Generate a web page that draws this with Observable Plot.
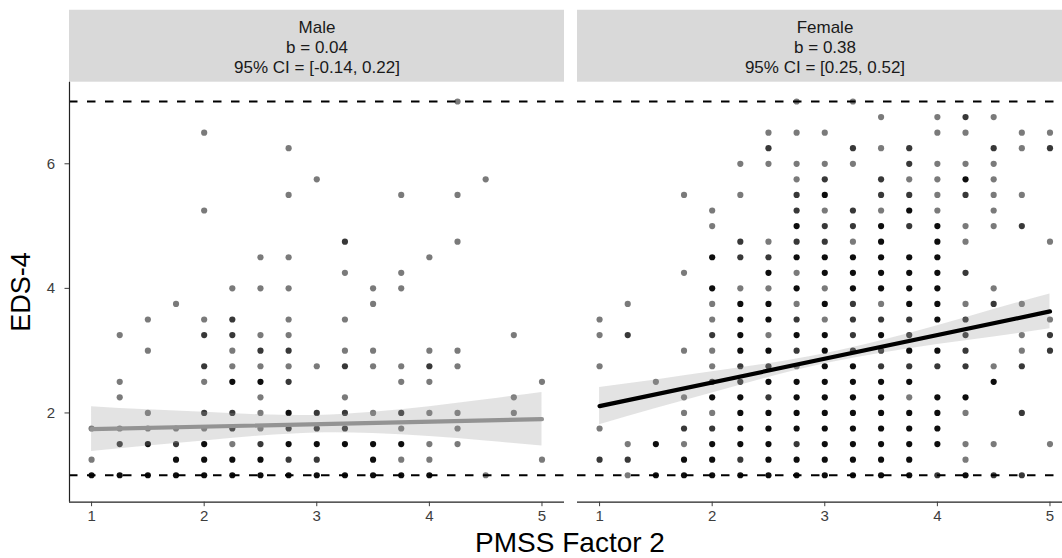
<!DOCTYPE html>
<html><head><meta charset="utf-8">
<script src="https://cdn.jsdelivr.net/npm/d3@7"></script>
<script src="https://cdn.jsdelivr.net/npm/@observablehq/plot@0.6"></script>
<style>
html,body{margin:0;padding:0;background:#fff;overflow:hidden}
#wrap{position:relative;width:1062px;height:558px;overflow:hidden;font-family:"Liberation Sans",Arial,sans-serif}
#xtitle{position:absolute;left:570px;top:527px;transform:translateX(-50%);font-size:28px;line-height:32px;white-space:nowrap;color:#000}
#ytitle{position:absolute;left:21px;top:292px;transform:translate(-50%,-50%) rotate(-90deg);font-size:27px;line-height:30px;white-space:nowrap;color:#000}
</style></head><body><div id="wrap"><div id="chart"></div><div id="ytitle">EDS-4</div><div id="xtitle">PMSS Factor 2</div></div>
<script>
// ---- data ----
const sexes = ["Male", "Female"];
const stripLabels = ["Male\nb = 0.04\n95% CI = [-0.14, 0.22]", "Female\nb = 0.38\n95% CI = [0.25, 0.52]"];
const xTicks = [1, 2, 3, 4, 5];
const yTicks = [2, 4, 6];
const refLines = [1, 7];
// [PMSS Factor 2, EDS-4, overlap level (1 = single, 2 = few, 3 = many)]
const malePoints = [
  [4.25,7,1],
  [2,6.5,1],
  [2.75,6.25,1],
  [3,5.75,1],[4.5,5.75,1],
  [2.75,5.5,1],[3.75,5.5,1],[4.25,5.5,1],
  [2,5.25,1],
  [3.25,4.75,2],[4.25,4.75,1],
  [2.5,4.5,1],[2.75,4.5,1],[4,4.5,1],
  [3.25,4.25,1],[3.75,4.25,1],
  [2.25,4,1],[2.5,4,1],[2.75,4,1],[3.5,4,1],[3.75,4,1],
  [1.75,3.75,1],[3.5,3.75,1],
  [1.5,3.5,1],[2,3.5,1],[2.25,3.5,2],[2.75,3.5,1],[3.25,3.5,1],
  [1.25,3.25,1],[2,3.25,2],[2.25,3.25,2],[2.5,3.25,1],[2.75,3.25,1],[4.75,3.25,1],
  [1.5,3,1],[2.25,3,1],[2.5,3,2],[2.75,3,2],[3.25,3,1],[3.5,3,1],[4,3,1],[4.25,3,1],
  [2,2.75,2],[2.25,2.75,1],[2.5,2.75,1],[2.75,2.75,1],[3,2.75,1],[3.25,2.75,2],[3.5,2.75,1],[3.75,2.75,1],[4,2.75,2],[4.25,2.75,1],
  [1.25,2.5,1],[2,2.5,1],[2.25,2.5,3],[2.5,2.5,3],[2.75,2.5,2],[3.75,2.5,1],[4,2.5,1],[5,2.5,1],
  [1.25,2.25,1],[2.5,2.25,1],[3.25,2.25,1],[4.75,2.25,1],
  [1.5,2,1],[2,2,2],[2.25,2,2],[2.5,2,1],[2.75,2,3],[3,2,2],[3.25,2,2],[3.5,2,1],[3.75,2,2],[4,2,1],[4.25,2,1],[4.75,2,1],
  [1,1.75,1],[1.25,1.75,1],[1.5,1.75,1],[1.75,1.75,1],[2,1.75,1],[2.25,1.75,2],[2.5,1.75,1],[2.75,1.75,2],[3,1.75,2],[3.25,1.75,2],[3.75,1.75,1],[4.25,1.75,1],
  [1.25,1.5,2],[1.5,1.5,3],[1.75,1.5,2],[2,1.5,3],[2.25,1.5,1],[2.5,1.5,2],[2.75,1.5,3],[3,1.5,3],[3.25,1.5,3],[3.5,1.5,3],[3.75,1.5,3],[4,1.5,1],[4.25,1.5,1],
  [1,1.25,1],[1.75,1.25,3],[2,1.25,3],[2.25,1.25,3],[2.5,1.25,3],[2.75,1.25,2],[3,1.25,2],[3.5,1.25,3],[3.75,1.25,1],[4,1.25,1],[5,1.25,1],
  [1,1,3],[1.25,1,3],[1.5,1,3],[1.75,1,3],[2,1,3],[2.25,1,3],[2.5,1,3],[2.75,1,3],[3,1,3],[3.25,1,3],[3.5,1,3],[3.75,1,3],[4,1,3],[4.5,1,1]
];
const femalePoints = [
  [2.75,7,1],[3.25,7,1],
  [3.5,6.75,1],[4,6.75,1],[4.25,6.75,2],[4.5,6.75,1],
  [2.5,6.5,1],[2.75,6.5,1],[3,6.5,1],[4,6.5,1],[4.25,6.5,1],[4.75,6.5,1],[5,6.5,1],
  [2.5,6.25,2],[3.25,6.25,2],[3.5,6.25,1],[3.75,6.25,2],[4.5,6.25,2],[4.75,6.25,1],[5,6.25,2],
  [2.25,6,1],[2.5,6,1],[2.75,6,1],[3,6,1],[3.25,6,1],[3.75,6,2],[4,6,1],[4.25,6,1],[4.5,6,1],
  [2.75,5.75,1],[3,5.75,2],[3.5,5.75,2],[3.75,5.75,1],[4,5.75,1],[4.25,5.75,3],[4.5,5.75,1],
  [1.75,5.5,1],[2.25,5.5,1],[2.75,5.5,2],[3,5.5,3],[3.5,5.5,2],[3.75,5.5,2],[4,5.5,1],[4.25,5.5,2],[4.5,5.5,1],[4.75,5.5,1],
  [2,5.25,1],[2.75,5.25,2],[3,5.25,1],[3.25,5.25,2],[3.5,5.25,1],[3.75,5.25,3],[4,5.25,1],[4.5,5.25,1],
  [2,5,1],[2.75,5,3],[3,5,2],[3.25,5,2],[3.5,5,3],[3.75,5,2],[4,5,3],[4.25,5,1],[4.5,5,1],[4.75,5,2],
  [2.25,4.75,2],[2.5,4.75,1],[2.75,4.75,2],[3,4.75,2],[3.25,4.75,1],[3.5,4.75,3],[4,4.75,3],[4.25,4.75,1],[5,4.75,1],
  [2,4.5,3],[2.25,4.5,2],[2.5,4.5,2],[2.75,4.5,3],[3,4.5,3],[3.25,4.5,3],[3.5,4.5,3],[3.75,4.5,3],[4,4.5,3],
  [1.75,4.25,1],[2.5,4.25,3],[2.75,4.25,1],[3,4.25,3],[3.25,4.25,3],[3.5,4.25,3],[3.75,4.25,3],[4,4.25,3],[4.25,4.25,2],
  [2,4,3],[2.25,4,1],[2.5,4,1],[2.75,4,3],[3,4,1],[3.25,4,3],[3.5,4,3],[3.75,4,3],[4,4,3],[4.5,4,1],
  [1.25,3.75,1],[2,3.75,1],[2.25,3.75,3],[2.5,3.75,3],[2.75,3.75,1],[3,3.75,3],[3.25,3.75,2],[3.5,3.75,1],[3.75,3.75,3],[4,3.75,3],[4.25,3.75,1],[4.5,3.75,2],[4.75,3.75,1],
  [1,3.5,1],[2,3.5,1],[2.25,3.5,3],[2.5,3.5,3],[2.75,3.5,2],[3,3.5,1],[3.25,3.5,2],[3.5,3.5,2],[3.75,3.5,2],[4,3.5,3],[4.25,3.5,2],[5,3.5,1],
  [1,3.25,1],[1.25,3.25,2],[2,3.25,2],[2.25,3.25,3],[2.5,3.25,1],[2.75,3.25,3],[3,3.25,3],[3.25,3.25,2],[3.5,3.25,3],[3.75,3.25,2],[4.25,3.25,2],[4.75,3.25,1],[5,3.25,2],
  [1.75,3,1],[2,3,1],[2.25,3,3],[2.5,3,3],[2.75,3,2],[3,3,3],[3.25,3,2],[3.5,3,2],[3.75,3,3],[4,3,3],[4.25,3,2],[4.75,3,1],[5,3,2],
  [1,2.75,1],[2,2.75,1],[2.25,2.75,2],[2.5,2.75,2],[2.75,2.75,1],[3,2.75,3],[3.25,2.75,3],[3.5,2.75,2],[3.75,2.75,2],[4,2.75,2],[4.25,2.75,2],[4.5,2.75,1],[4.75,2.75,2],
  [1.5,2.5,1],[2,2.5,2],[2.25,2.5,2],[2.5,2.5,3],[2.75,2.5,3],[3,2.5,3],[3.25,2.5,3],[3.5,2.5,3],[3.75,2.5,3],[4.5,2.5,3],
  [1.75,2.25,1],[2,2.25,3],[2.25,2.25,3],[2.5,2.25,2],[2.75,2.25,3],[3,2.25,3],[3.25,2.25,3],[3.5,2.25,3],[3.75,2.25,1],[4,2.25,3],[4.25,2.25,3],
  [1.75,2,1],[2,2,1],[2.25,2,3],[2.5,2,3],[2.75,2,3],[3,2,3],[3.25,2,3],[3.5,2,3],[3.75,2,3],[4,2,3],[4.25,2,1],[4.75,2,2],
  [1,1.75,1],[1.75,1.75,2],[2,1.75,2],[2.25,1.75,3],[2.5,1.75,3],[2.75,1.75,3],[3,1.75,3],[3.25,1.75,3],[3.5,1.75,3],[3.75,1.75,3],[4,1.75,3],
  [1.25,1.5,1],[1.5,1.5,3],[1.75,1.5,1],[2,1.5,3],[2.25,1.5,3],[2.5,1.5,3],[2.75,1.5,2],[3,1.5,3],[3.25,1.5,3],[3.5,1.5,3],[3.75,1.5,3],[4,1.5,3],[4.25,1.5,1],[4.5,1.5,1],[5,1.5,1],
  [1,1.25,2],[1.25,1.25,2],[1.75,1.25,3],[2,1.25,3],[2.25,1.25,2],[2.5,1.25,3],[2.75,1.25,3],[3,1.25,3],[3.25,1.25,3],[3.5,1.25,3],[3.75,1.25,3],[4.25,1.25,1],
  [1.25,1,1],[1.5,1,3],[1.75,1,3],[2,1,3],[2.25,1,3],[2.5,1,3],[2.75,1,3],[3,1,3],[3.25,1,3],[3.5,1,3],[3.75,1,3],[4,1,2],[4.25,1,3],[4.5,1,2],[4.75,1,2]
];
// regression fits and 95% confidence bands
const fitX = [1, 5];
const maleFit = [1.74, 1.90];
const femaleFit = [2.11, 3.63];
const bandX = [1, 1.5, 2, 2.5, 3, 3.5, 4, 4.5, 5];
const maleLo = [1.38, 1.47, 1.55, 1.63, 1.68, 1.67, 1.62, 1.55, 1.47];
const maleHi = [2.10, 2.05, 2.01, 1.97, 1.96, 2.01, 2.10, 2.21, 2.33];
const femaleLo = [1.81, 2.07, 2.32, 2.57, 2.79, 2.96, 3.10, 3.22, 3.35];
const femaleHi = [2.41, 2.53, 2.66, 2.79, 2.95, 3.16, 3.40, 3.66, 3.91];
const levelOpacity = [0, 0.52, 0.78, 0.95];

// ---- tables built from the arrays ----
const pts = [
  ...malePoints.map(([x, y, n]) => ({sex: "Male", x, y, n})),
  ...femalePoints.map(([x, y, n]) => ({sex: "Female", x, y, n}))
];
const fits = [
  ...fitX.map((x, i) => ({sex: "Male", x, y: maleFit[i]})),
  ...fitX.map((x, i) => ({sex: "Female", x, y: femaleFit[i]}))
];
const bands = [
  ...bandX.map((x, i) => ({sex: "Male", x, lo: maleLo[i], hi: maleHi[i]})),
  ...bandX.map((x, i) => ({sex: "Female", x, lo: femaleLo[i], hi: femaleHi[i]}))
];
const strips = sexes.map((s, i) => ({sex: s, label: stripLabels[i]}));

const xDomain = [0.804, 5.2];
const yDomain = [0.567, 7.31];
const stripTop = 8.465;
const fmt = d => String(d);

const chart = Plot.plot({
  width: 1072,
  height: 530,
  marginLeft: 69,
  marginRight: 0,
  marginTop: 81.7,
  marginBottom: 28.3,
  style: "max-width:none;font-family:'Liberation Sans',Arial,sans-serif;font-size:15px;background:#fff;overflow:visible",
  fx: {domain: sexes, axis: null, paddingInner: 0.0256, paddingOuter: 0},
  x: {domain: xDomain, label: null},
  y: {domain: yDomain, label: null},
  opacity: {type: "identity"},
  marks: [
    Plot.rect(strips, {fx: "sex", x1: () => xDomain[0], x2: () => xDomain[1], y1: () => yDomain[1], y2: () => stripTop, fill: "#d9d9d9"}),
    Plot.text(strips, {fx: "sex", text: "label", frameAnchor: "top", dy: -36, lineAnchor: "middle", lineHeight: 20 / 17, fontSize: 17, fill: "#1a1a1a"}),
    Plot.ruleY(refLines, {stroke: "#000", strokeWidth: 1.8, strokeDasharray: "8.5,9.5"}),
    Plot.dot(pts, {fx: "sex", x: "x", y: "y", r: 3.1, fill: "#000", stroke: "none", fillOpacity: d => levelOpacity[d.n]}),
    Plot.areaY(bands, {fx: "sex", x: "x", y1: "lo", y2: "hi", fill: "#999", fillOpacity: 0.28, curve: "natural"}),
    Plot.line(fits, {fx: "sex", x: "x", y: "y", stroke: d => d.sex === "Male" ? "#939393" : "#000", z: "sex", strokeWidth: 4.2}),
    Plot.ruleX([xDomain[0]], {fx: ["Male"], stroke: "#222", strokeWidth: 1.2}),
    Plot.ruleY([yDomain[0]], {stroke: "#222", strokeWidth: 1.2}),
    Plot.axisX({ticks: xTicks, tickFormat: fmt, tickSize: 4.5, tickPadding: 4, fontSize: 15, color: "#3d3d3d", label: null}),
    Plot.axisY({ticks: yTicks, tickFormat: fmt, tickSize: 4.5, tickPadding: 10, fontSize: 15, color: "#3d3d3d", label: null})
  ]
});
document.getElementById("chart").appendChild(chart);
</script>
</body></html>
